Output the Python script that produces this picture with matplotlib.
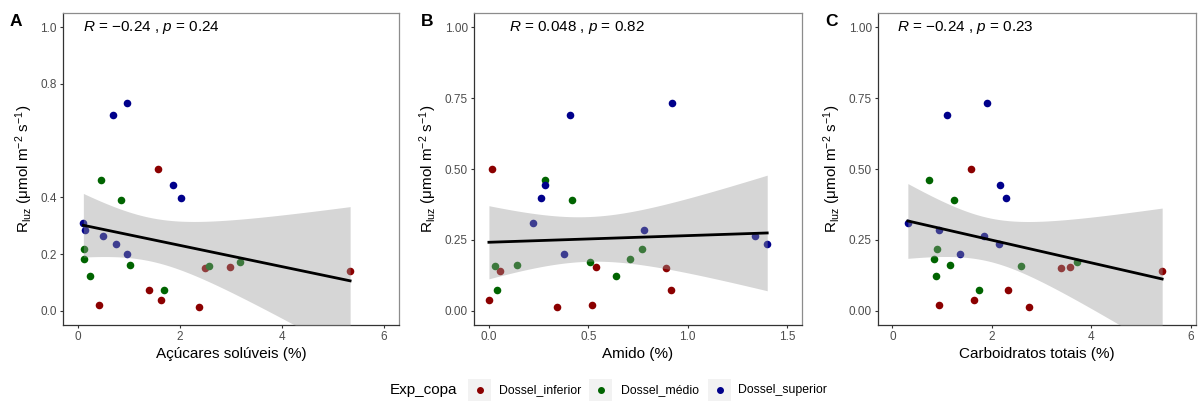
import numpy as np
import matplotlib

matplotlib.use('Agg')
import matplotlib.pyplot as plt
from matplotlib.patches import Rectangle
from matplotlib.lines import Line2D

plt.rcParams['font.family'] = ['Liberation Sans', 'DejaVu Sans']
plt.rcParams['mathtext.fontset'] = 'custom'
plt.rcParams['mathtext.rm'] = 'Liberation Sans'
plt.rcParams['mathtext.it'] = 'Liberation Sans:italic'

# one row per tree: canopy layer, dark respiration and carbohydrate contents (%)
grupo = (['Dossel_superior'] * 9 + ['Dossel_médio'] * 9 + ['Dossel_inferior'] * 8)

rluz = [0.733, 0.689, 0.443, 0.397, 0.311, 0.284, 0.264, 0.235, 0.199,
        0.462, 0.392, 0.217, 0.183, 0.162, 0.121, 0.075, 0.157, 0.171,
        0.499, 0.019, 0.072, 0.038, 0.014, 0.151, 0.155, 0.141]

acucares = [0.95, 0.68, 1.86, 2.01, 0.10, 0.14, 0.48, 0.74, 0.95,
            0.45, 0.83, 0.12, 0.12, 1.01, 0.23, 1.69, 2.56, 3.17,
            1.56, 0.40, 1.39, 1.62, 2.38, 2.48, 2.99, 5.34]

amido = [0.92, 0.41, 0.28, 0.26, 0.22, 0.78, 1.34, 1.40, 0.38,
         0.28, 0.42, 0.77, 0.71, 0.14, 0.64, 0.04, 0.03, 0.51,
         0.015, 0.52, 0.915, 0.0, 0.345, 0.89, 0.54, 0.058]

totais = [1.90, 1.09, 2.16, 2.28, 0.31, 0.93, 1.84, 2.15, 1.35,
          0.74, 1.24, 0.89, 0.84, 1.15, 0.87, 1.74, 2.59, 3.70,
          1.58, 0.94, 2.32, 1.63, 2.75, 3.38, 3.56, 5.42]

niveis = ['Dossel_inferior', 'Dossel_médio', 'Dossel_superior']
cores = {'Dossel_inferior': '#8B0000', 'Dossel_médio': '#006400', 'Dossel_superior': '#00008B'}

paineis = [
    ('A', acucares, 'Açúcares solúveis (%)', r'$R$ = −0.24 , $p$ = 0.24',
     (-0.3, 6.3), [0, 2, 4, 6], ['0', '2', '4', '6'],
     [0, 0.2, 0.4, 0.8, 1.0], ['0.0', '0.2', '0.4', '0.8', '1.0']),
    ('B', amido, 'Amido (%)', r'$R$ = 0.048 , $p$ = 0.82',
     (-0.075, 1.575), [0, 0.5, 1.0, 1.5], ['0.0', '0.5', '1.0', '1.5'],
     [0, 0.25, 0.5, 0.75, 1.0], ['0.00', '0.25', '0.50', '0.75', '1.00']),
    ('C', totais, 'Carboidratos totais (%)', r'$R$ = −0.24 , $p$ = 0.23',
     (-0.29, 6.1), [0, 2, 4, 6], ['0', '2', '4', '6'],
     [0, 0.25, 0.5, 0.75, 1.0], ['0.00', '0.25', '0.50', '0.75', '1.00']),
]

W, H = 1198, 401
fig = plt.figure(figsize=(W / 100, H / 100), dpi=100)

# axes boxes in pixels: left, right, top, bottom
caixas = [(63, 399, 13, 325), (474, 802, 13, 325), (878, 1196, 13, 325)]
T_CRIT = 2.064  # t(0.975, df = 24)

y = np.array(rluz)
for (letra, xs, xlabel, rotulo, xlim, xt, xtl, yt, ytl), (l, r, t, b) in zip(paineis, caixas):
    ax = fig.add_axes([l / W, (H - b) / H, (r - l) / W, (b - t) / H])
    x = np.array(xs)

    for nivel in niveis:
        m = np.array([g == nivel for g in grupo])
        ax.scatter(x[m], y[m], s=30, color=cores[nivel], linewidths=0, zorder=2)

    # linear fit with 95% confidence band
    slope, inter = np.polyfit(x, y, 1)
    n = len(x)
    resid = y - (inter + slope * x)
    s = np.sqrt(np.sum(resid ** 2) / (n - 2))
    xg = np.linspace(x.min(), x.max(), 100)
    yg = inter + slope * xg
    se = s * np.sqrt(1 / n + (xg - x.mean()) ** 2 / np.sum((x - x.mean()) ** 2))
    ax.fill_between(xg, yg - T_CRIT * se, yg + T_CRIT * se, color='#999999',
                    alpha=0.4, linewidth=0, zorder=3)
    ax.plot(xg, yg, color='black', lw=2.0, zorder=4)

    ax.text(0.1, 1.0, rotulo, fontsize=11, ha='left', va='center', color='black', zorder=5)

    ax.set_xlim(*xlim)
    ax.set_ylim(-0.05, 1.05)
    ax.set_xticks(xt)
    ax.set_xticklabels(xtl)
    ax.set_yticks(yt)
    ax.set_yticklabels(ytl)
    ax.tick_params(direction='out', length=2.5, width=0.8, color='#333333',
                   labelcolor='#4D4D4D', labelsize=8.5, pad=2)
    for lado in ['left', 'bottom']:
        ax.spines[lado].set_color('#333333')
        ax.spines[lado].set_linewidth(0.9)
    for lado in ['top', 'right']:
        ax.spines[lado].set_color('#8C8C8C')
        ax.spines[lado].set_linewidth(0.9)

    ax.set_xlabel(xlabel, fontsize=11, labelpad=3)
    ax.set_ylabel(r'R$_{\rm luz}$ (μmol m$^{-2}$ s$^{-1}$)', fontsize=11, labelpad=4)

    fig.text((l - 53) / W, (H - 22) / H, letra, fontsize=12.5, fontweight='bold',
             ha='left', va='center')

# legend along the bottom
yc = (H - 390) / H
fig.text(390 / W, yc, 'Exp_copa', fontsize=11, ha='left', va='center')
for nivel, x0, xt0 in zip(niveis, [468, 589, 708], [499, 621, 738]):
    fig.add_artist(Rectangle((x0 / W, (H - 401) / H), 23 / W, 22 / H,
                             transform=fig.transFigure, facecolor='#F2F2F2',
                             edgecolor='none'))
    fig.add_artist(Line2D([(x0 + 11.5) / W], [yc], transform=fig.transFigure,
                          marker='o', markersize=4, color=cores[nivel], linestyle='none'))
    fig.text(xt0 / W, yc, nivel, fontsize=8.8, ha='left', va='center')

fig.savefig('out.png', dpi=100)
plt.close(fig)
